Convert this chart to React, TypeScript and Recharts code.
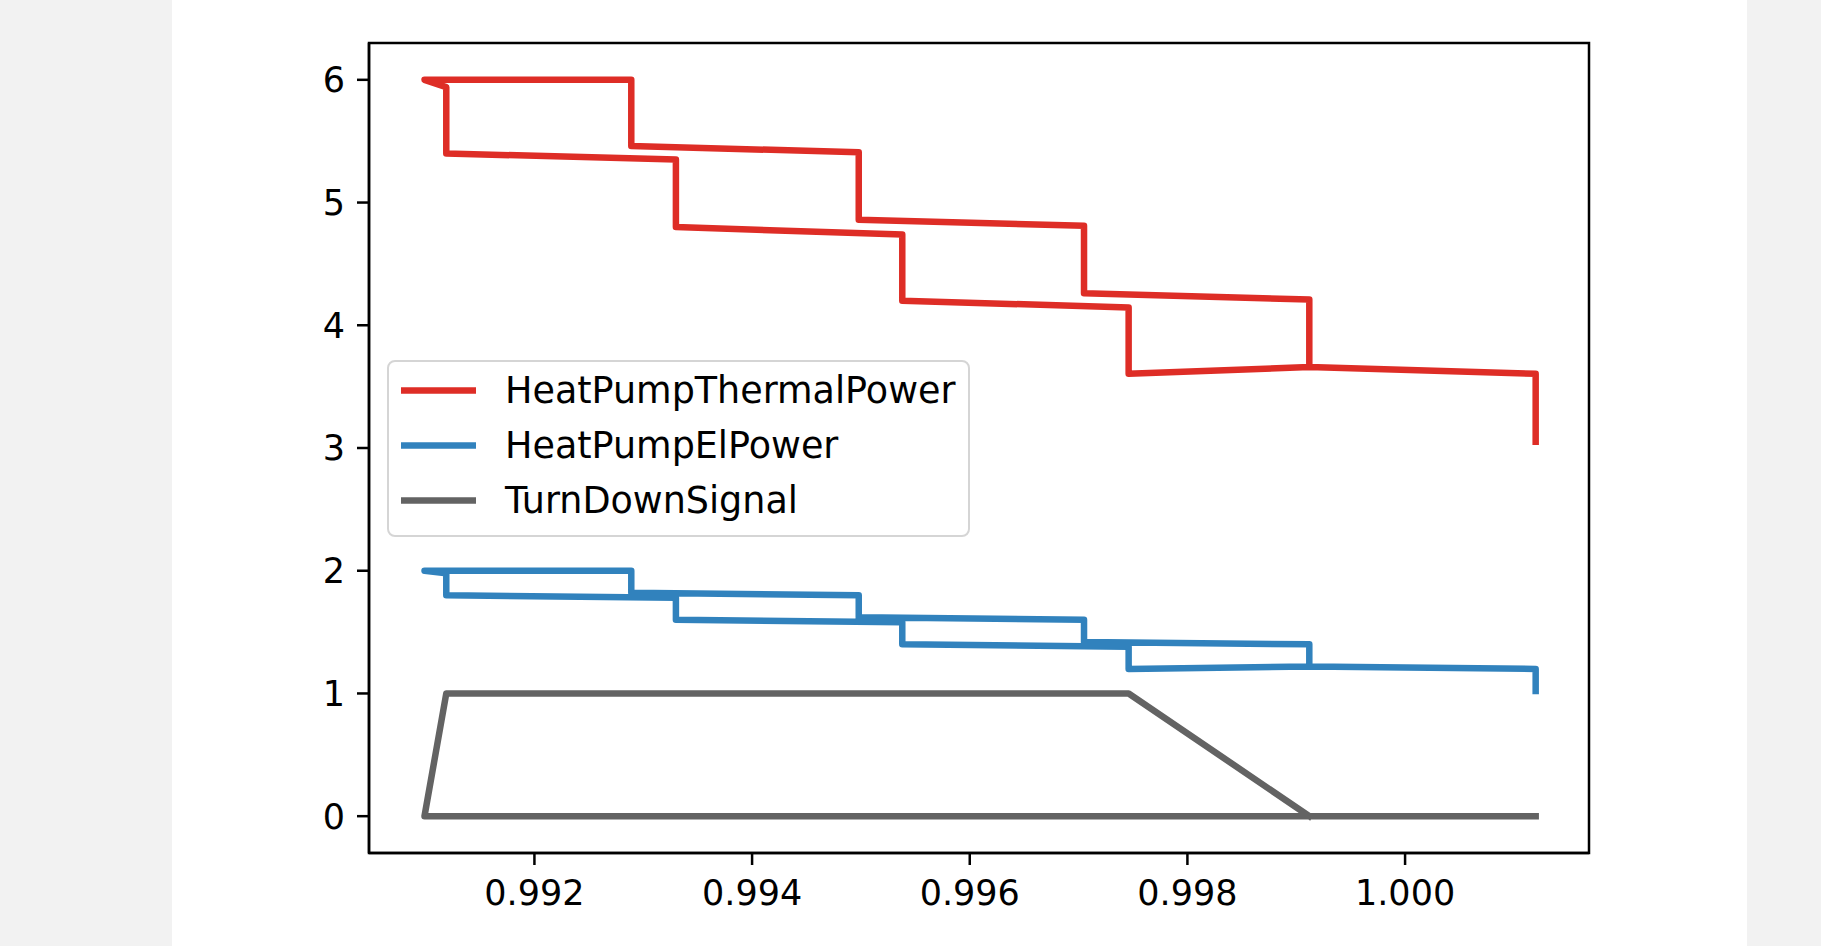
import { LineChart, Line, XAxis, YAxis, Legend, ReferenceArea } from "recharts";

const FONT = "'DejaVu Sans', sans-serif";

// x positions of the two interleaved staircases (first one run backwards, then the other forwards)
const stepX = [
  0.99912, 0.99912, 0.99705, 0.99705, 0.99498, 0.99498, 0.99289, 0.99289, 0.99099,
  0.99119, 0.99119, 0.9933, 0.9933, 0.99538, 0.99538, 0.99746, 0.99746, 0.99912, 1.0012, 1.0012,
];
const thermalY = [
  3.66, 4.21, 4.26, 4.81, 4.86, 5.41, 5.46, 6.0, 6.0,
  5.94, 5.4, 5.35, 4.8, 4.74, 4.2, 4.145, 3.605, 3.66, 3.605, 3.05,
];
const elY = [
  1.22, 1.4, 1.42, 1.6, 1.62, 1.8, 1.82, 2.0, 2.0,
  1.98, 1.8, 1.78, 1.6, 1.58, 1.4, 1.38, 1.2, 1.22, 1.2, 1.02,
];
const turnDownX = [1.0012, 0.99099, 0.99119, 0.99746, 0.99912];
const turnDownY = [0, 0, 1, 1, 0];

const seriesNames = ["HeatPumpThermalPower", "HeatPumpElPower", "TurnDownSignal"];
const xTicks = [0.992, 0.994, 0.996, 0.998, 1.0];
const yTicks = [0, 1, 2, 3, 4, 5, 6];
const xDomain: [number, number] = [0.99048, 1.00169];
const yDomain: [number, number] = [-0.3, 6.3];

const thermal = stepX.map((x, i) => ({ x, y: thermalY[i] }));
const el = stepX.map((x, i) => ({ x, y: elY[i] }));
const turnDown = turnDownX.map((x, i) => ({ x, y: turnDownY[i] }));

const frame = { stroke: "#000", strokeWidth: 2.5 };
const tickStyle = { fill: "#000", fontSize: 35, fontFamily: FONT };
const LW = 6.5;

function LegendBox({ payload }: any) {
  const items = [...(payload || [])].sort(
    (a: any, b: any) => seriesNames.indexOf(a.value) - seriesNames.indexOf(b.value)
  );
  return (
    <div
      style={{
        boxSizing: "border-box",
        width: 583,
        height: 177,
        border: "2px solid #d5d5d5",
        borderRadius: 8,
        background: "rgba(255,255,255,0.8)",
        paddingTop: 0.5,
      }}
    >
      {items.map((p: any) => (
        <div key={p.value} style={{ display: "flex", alignItems: "center", height: 55 }}>
          <svg width={116} height={55} style={{ flex: "none" }}>
            <line x1={12} x2={87} y1={27.5} y2={27.5} stroke={p.color} strokeWidth={LW} />
          </svg>
          <span style={{ fontFamily: FONT, fontSize: 36.5, color: "#000", whiteSpace: "nowrap" }}>
            {p.value}
          </span>
        </div>
      ))}
    </div>
  );
}

export default function App() {
  return (
    <div style={{ position: "fixed", inset: 0, background: "#f2f2f2" }}>
      <div style={{ position: "absolute", left: 172, top: 0, width: 1575, height: 946, background: "#fff" }} />
      <div style={{ position: "absolute", left: 0, top: 0 }}>
        <LineChart width={1821} height={946} margin={{ top: 43, right: 232, bottom: 33, left: 289 }}>
          <XAxis
            xAxisId="bottom"
            dataKey="x"
            type="number"
            domain={xDomain}
            allowDataOverflow
            ticks={xTicks}
            tickFormatter={(v: number) => v.toFixed(3)}
            height={60}
            tickSize={12}
            tickMargin={15}
            axisLine={frame}
            tickLine={frame}
            tick={tickStyle}
          />
          <YAxis
            yAxisId="left"
            type="number"
            domain={yDomain}
            allowDataOverflow
            ticks={yTicks}
            width={80}
            tickSize={12}
            tickMargin={12}
            axisLine={frame}
            tickLine={frame}
            tick={tickStyle}
          />
          <ReferenceArea
            xAxisId="bottom"
            yAxisId="left"
            x1={xDomain[0]}
            x2={xDomain[1]}
            y1={yDomain[0]}
            y2={yDomain[1]}
            fill="none"
            stroke="#000"
            strokeWidth={2.5}
            ifOverflow="visible"
          />
          <Legend
            layout="vertical"
            align="center"
            verticalAlign="middle"
            wrapperStyle={{ left: 387, top: 360, width: 583, height: 177 }}
            content={<LegendBox />}
          />
          <Line
            xAxisId="bottom"
            yAxisId="left"
            data={thermal}
            dataKey="y"
            name={seriesNames[0]}
            type="linear"
            stroke="#de2d26"
            strokeWidth={LW}
            strokeLinejoin="round"
            strokeLinecap="square"
            dot={false}
            activeDot={false}
            isAnimationActive={false}
          />
          <Line
            xAxisId="bottom"
            yAxisId="left"
            data={el}
            dataKey="y"
            name={seriesNames[1]}
            type="linear"
            stroke="#3182bd"
            strokeWidth={LW}
            strokeLinejoin="round"
            strokeLinecap="square"
            dot={false}
            activeDot={false}
            isAnimationActive={false}
          />
          <Line
            xAxisId="bottom"
            yAxisId="left"
            data={turnDown}
            dataKey="y"
            name={seriesNames[2]}
            type="linear"
            stroke="#636363"
            strokeWidth={LW}
            strokeLinejoin="round"
            strokeLinecap="square"
            dot={false}
            activeDot={false}
            isAnimationActive={false}
          />
        </LineChart>
      </div>
    </div>
  );
}
